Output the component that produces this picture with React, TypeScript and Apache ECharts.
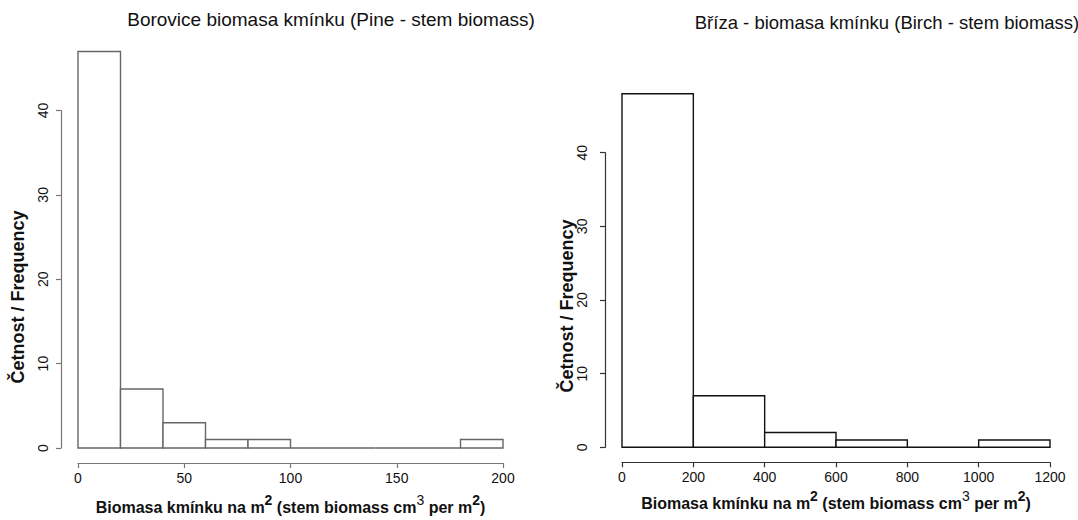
import React, { useEffect, useRef } from "react";
import * as echarts from "echarts";

// Pine histogram (bin breaks and counts)
const pineBreaks = [0, 20, 40, 60, 80, 100, 120, 140, 160, 180, 200];
const pineCounts = [47, 7, 3, 1, 1, 0, 0, 0, 0, 1];
// Birch histogram
const birchBreaks = [0, 200, 400, 600, 800, 1000, 1200];
const birchCounts = [48, 7, 2, 1, 0, 1];

const pineTitle = "Borovice biomasa kmínku (Pine - stem biomass)";
const birchTitle = "Bříza - biomasa kmínku (Birch - stem biomass)";
const yName = "Četnost / Frequency";
const xName =
  "{a|Biomasa kmínku na m}{b|2}{a| (stem biomass cm}{c|3}{a| per m}{b|2}{a|)}";

const FONT = "Liberation Sans, Arial, Helvetica, sans-serif";

function binData(breaks: number[], counts: number[]) {
  return counts.map((c, i) => [breaks[i], breaks[i + 1], c]);
}

function makeRender(stroke: string) {
  return (params: any, api: any) => {
    const x0 = api.value(0);
    const x1 = api.value(1);
    const c = api.value(2);
    const p0 = api.coord([x0, 0]);
    const p1 = api.coord([x1, c]);
    return {
      type: "polygon",
      shape: {
        points: [
          [p0[0], p0[1]],
          [p0[0], p1[1]],
          [p1[0], p1[1]],
          [p1[0], p0[1]],
        ],
      },
      style: { fill: "#fff", stroke, lineWidth: 1.4 },
    };
  };
}

const richName = {
  a: { fontSize: 16, fontWeight: "bold", fontFamily: FONT, color: "#111", lineHeight: 22, verticalAlign: "bottom" },
  b: { fontSize: 14, fontWeight: "bold", fontFamily: FONT, color: "#111", lineHeight: 22, verticalAlign: "top" },
  c: { fontSize: 14, fontWeight: "normal", fontFamily: FONT, color: "#111", lineHeight: 22, verticalAlign: "top" },
};

function xAxisOpt(gridIndex: number, max: number, interval: number, color: string, gap: number) {
  return {
    type: "value",
    gridIndex,
    min: 0,
    max,
    interval,
    offset: 15,
    axisLine: { show: true, onZero: false, lineStyle: { color, width: 1.2 } },
    axisTick: { show: true, length: 5, lineStyle: { color, width: 1.2 } },
    axisLabel: {
      fontSize: 14,
      fontFamily: FONT,
      color: "#111",
      margin: 8,
      formatter: (v: number) => String(v),
    },
    splitLine: { show: false },
    name: xName,
    nameLocation: "middle",
    nameGap: gap,
    nameTextStyle: { rich: richName },
  };
}

function yAxisOpt(gridIndex: number, color: string, margin: number) {
  return {
    type: "value",
    gridIndex,
    min: 0,
    max: 40,
    interval: 10,
    offset: 17,
    axisLine: { show: true, onZero: false, lineStyle: { color, width: 1.2 } },
    axisTick: { show: true, length: 5, lineStyle: { color, width: 1.2 } },
    axisLabel: { fontSize: 14, fontFamily: FONT, color: "#111", rotate: 90, margin },
    splitLine: { show: false },
  };
}

function yNameText(x: number, y: number) {
  return {
    type: "text",
    x,
    y,
    rotation: Math.PI / 2,
    style: {
      text: yName,
      fontSize: 18,
      fontWeight: "bold",
      fontFamily: FONT,
      fill: "#111",
      align: "center",
      verticalAlign: "middle",
    },
  };
}

export default function App() {
  const ref = useRef<HTMLDivElement>(null);
  useEffect(() => {
    if (!ref.current) return;
    const chart = echarts.init(ref.current, null, { renderer: "svg" });
    chart.setOption({
      animation: false,
      backgroundColor: "#fff",
      title: [
        {
          text: pineTitle,
          left: 326,
          top: 5,
          textAlign: "center",
          textStyle: { fontSize: 19, fontWeight: "normal", fontFamily: FONT, color: "#111" },
        },
        {
          text: birchTitle,
          left: 882,
          top: 8,
          textAlign: "center",
          textStyle: { fontSize: 18.5, fontWeight: "normal", fontFamily: FONT, color: "#111" },
        },
      ],
      grid: [
        { left: 78, top: 110.5, width: 425, height: 337.5 },
        { left: 622, top: 152.7, width: 428, height: 294.6 },
      ],
      xAxis: [
        xAxisOpt(0, 200, 50, "#777", 30),
        xAxisOpt(1, 1200, 200, "#333", 24),
      ],
      yAxis: [yAxisOpt(0, "#777", 11), yAxisOpt(1, "#333", 16)],
      graphic: [yNameText(18, 297), yNameText(567, 306)],
      series: [
        {
          type: "custom",
          xAxisIndex: 0,
          yAxisIndex: 0,
          clip: false,
          encode: { x: [0, 1], y: 2 },
          data: binData(pineBreaks, pineCounts),
          renderItem: makeRender("#666"),
        },
        {
          type: "custom",
          xAxisIndex: 1,
          yAxisIndex: 1,
          clip: false,
          encode: { x: [0, 1], y: 2 },
          data: binData(birchBreaks, birchCounts),
          renderItem: makeRender("#111"),
        },
      ],
    });
    return () => chart.dispose();
  }, []);
  return (
    <div
      ref={ref}
      style={{ position: "fixed", left: 0, top: 0, width: 1078, height: 520, background: "#fff" }}
    />
  );
}
